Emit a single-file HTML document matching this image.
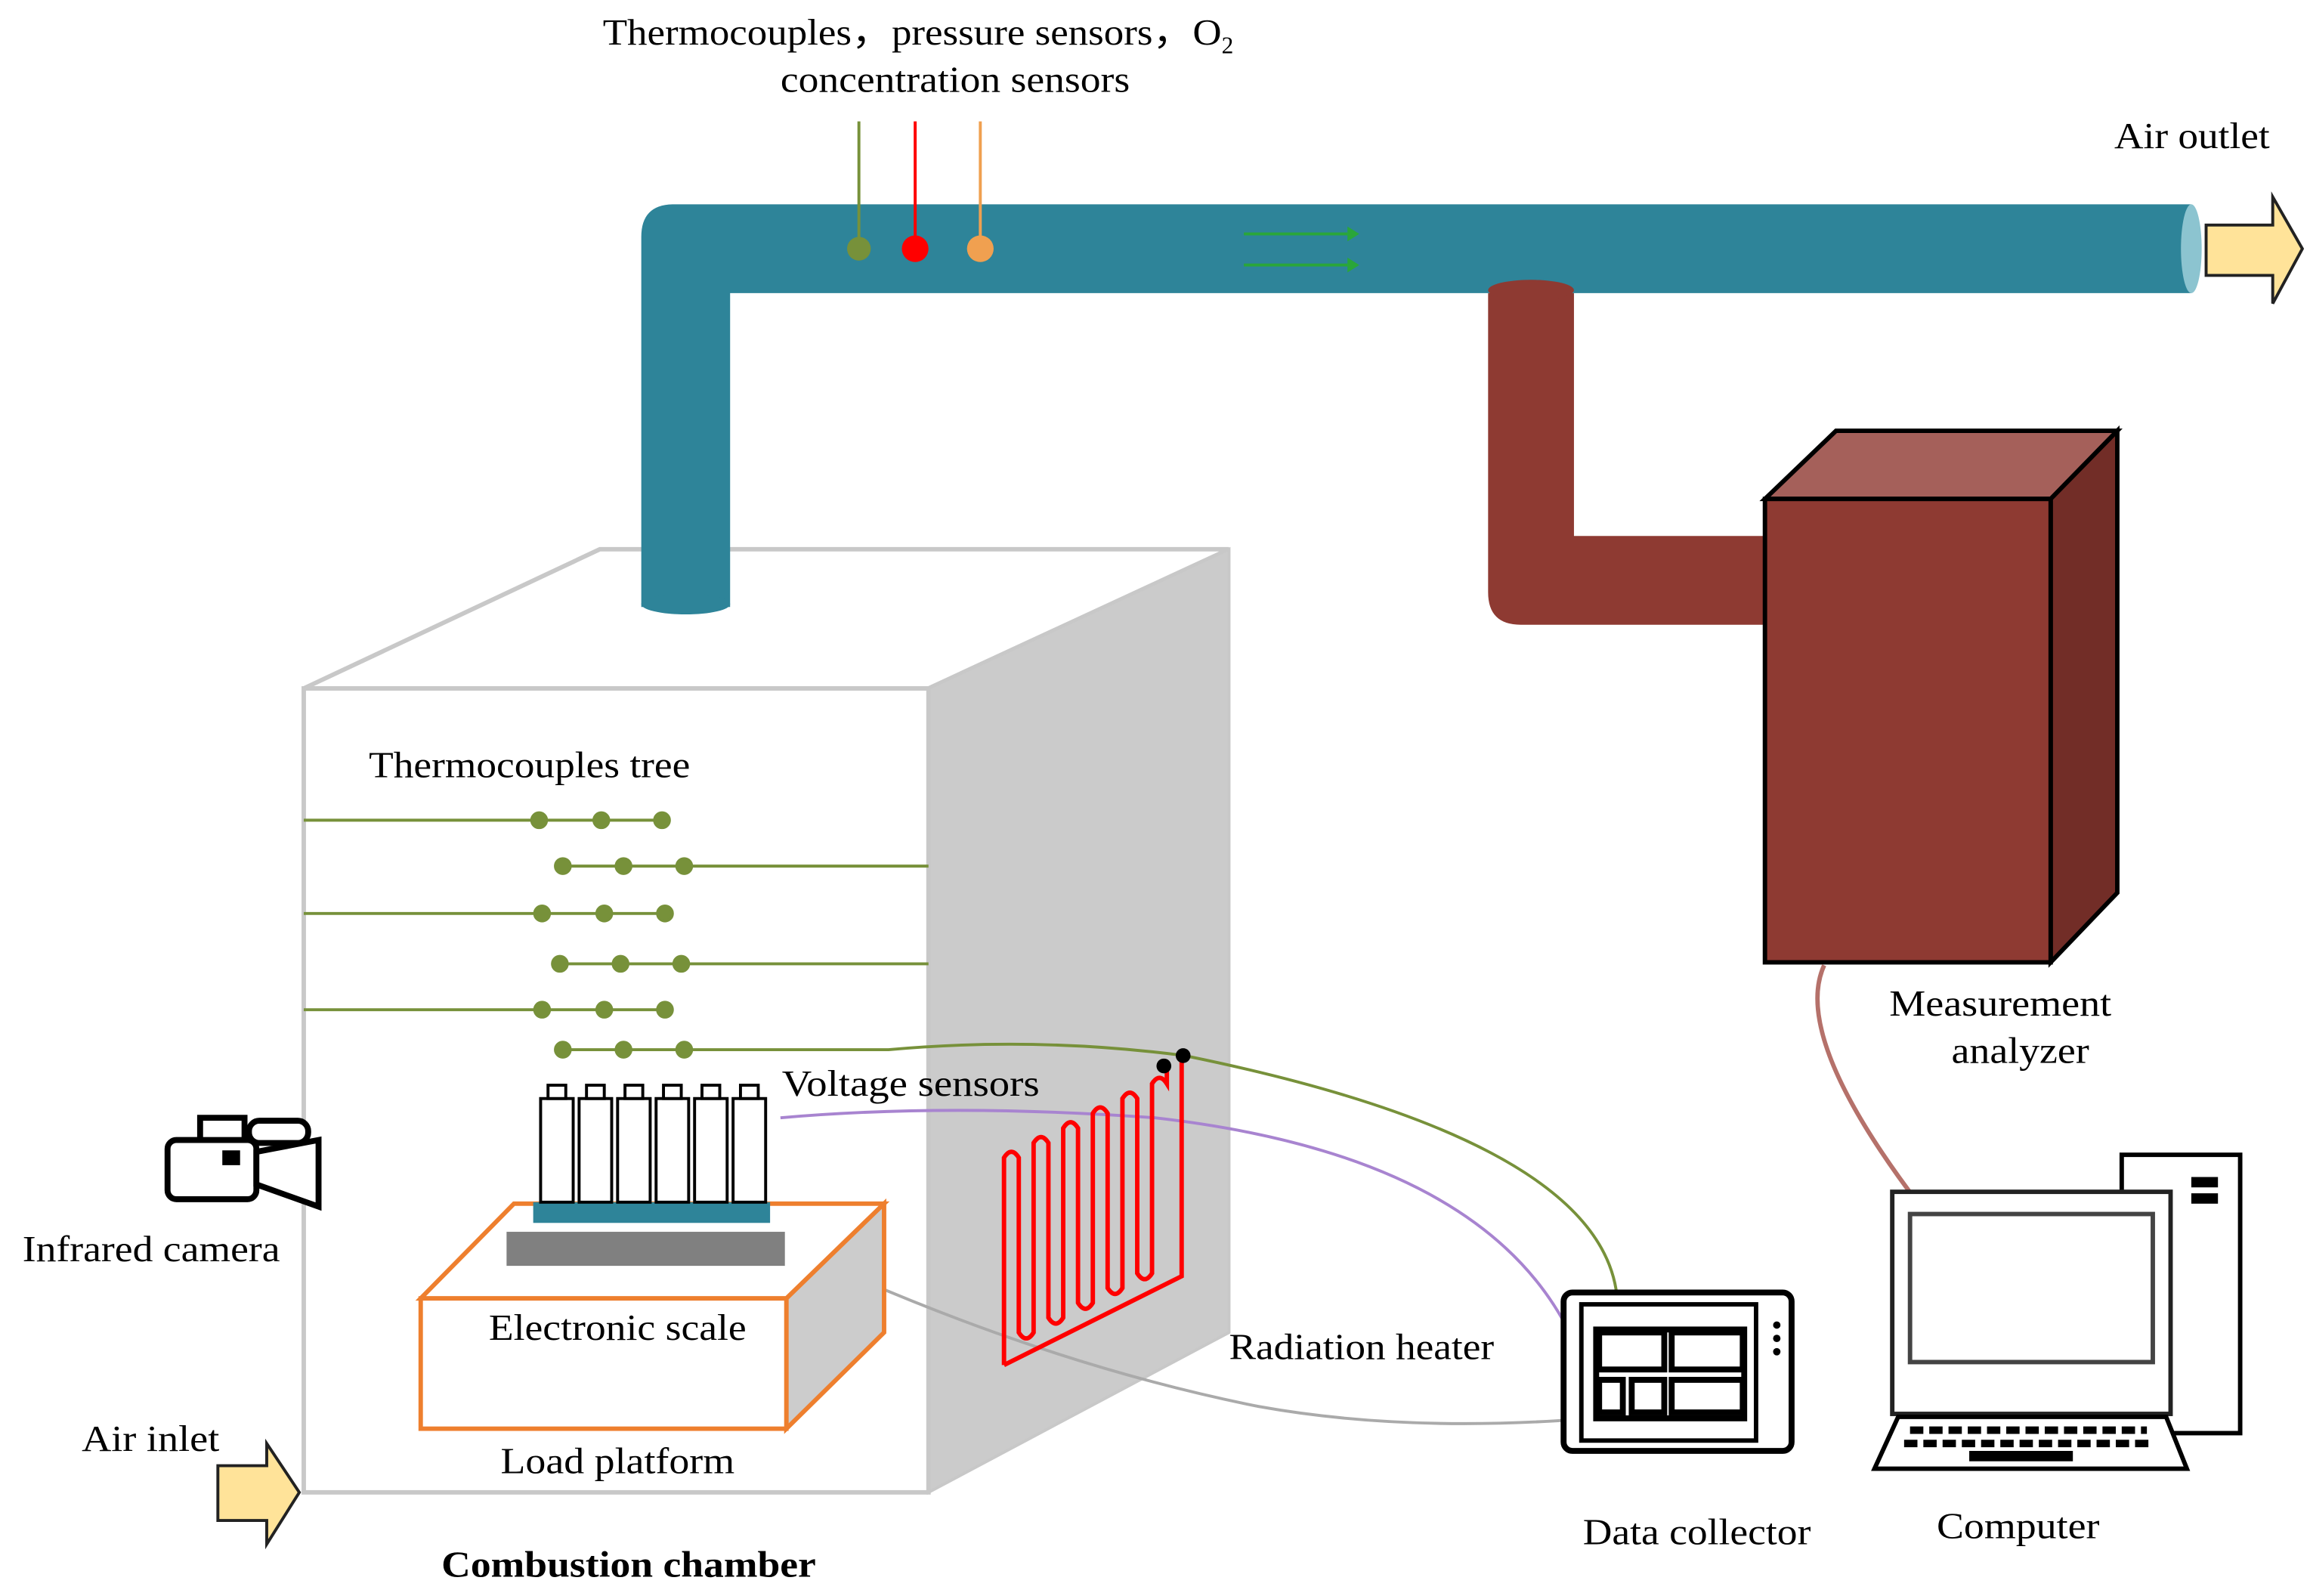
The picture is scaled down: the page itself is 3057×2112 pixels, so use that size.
<!DOCTYPE html>
<html><head><meta charset="utf-8"><style>html,body{margin:0;padding:0;background:#fff}svg{display:block}</style></head><body>
<svg width="3057" height="2112" viewBox="0 0 1560 1078" xmlns="http://www.w3.org/2000/svg" font-family="Liberation Serif, serif" font-size="25">
<rect width="1560" height="1078" fill="#fff"/>
<!-- chamber -->
<polygon points="205,465 405,371 830,371 627,465" fill="#fff" stroke="#c8c8c8" stroke-width="3"/>
<polygon points="627,465 830,371 830,900 627,1008" fill="#cbcbcb" stroke="#c8c8c8" stroke-width="2"/>
<rect x="205" y="465" width="422" height="543" fill="#fff" stroke="#c8c8c8" stroke-width="3"/>
<!-- teal pipe -->
<path d="M433,410 L433,160 Q433,138 455,138 L1480,138 L1480,198 L493,198 L493,410 Z" fill="#2e8499"/>
<ellipse cx="463" cy="408" rx="30" ry="7" fill="#2e8499"/>
<ellipse cx="1480" cy="168" rx="7" ry="30" fill="#8cc4d0"/>
<line x1="840" y1="158" x2="910" y2="158" stroke="#2aa63a" stroke-width="2"/><polygon points="910,153 918,158 910,163" fill="#2aa63a"/>
<line x1="840" y1="179" x2="910" y2="179" stroke="#2aa63a" stroke-width="2"/><polygon points="910,174 918,179 910,184" fill="#2aa63a"/>
<!-- sensors -->
<line x1="580" y1="82" x2="580" y2="168" stroke="#77913a" stroke-width="2"/><circle cx="580" cy="168" r="8" fill="#77913a"/>
<line x1="618" y1="82" x2="618" y2="168" stroke="#f00" stroke-width="2"/><circle cx="618" cy="168" r="9" fill="#f00"/>
<line x1="662" y1="82" x2="662" y2="168" stroke="#f0a050" stroke-width="2"/><circle cx="662" cy="168" r="9" fill="#f0a050"/>
<!-- outlet arrow -->
<polygon points="1490,152 1535,152 1535,133 1555,168 1535,205 1535,186 1490,186" fill="#ffe399" stroke="#222" stroke-width="2"/>
<!-- brown pipe -->
<path d="M1005,198 L1005,400 Q1005,422 1027,422 L1192,422 L1192,362 L1063,362 L1063,198 Z" fill="#8e3a32"/>
<ellipse cx="1034" cy="196" rx="29" ry="7" fill="#8e3a32"/>
<!-- analyzer -->
<polygon points="1192,337 1240,291 1430,291 1385,337" fill="#a5605a" stroke="#000" stroke-width="3"/>
<polygon points="1385,337 1430,291 1430,603 1385,650" fill="#722d27" stroke="#000" stroke-width="3"/>
<rect x="1192" y="337" width="193" height="313" fill="#8e3a32" stroke="#000" stroke-width="3"/>
<path d="M1232,652 Q1210,700 1295,812" stroke="#b5716a" stroke-width="3" fill="none"/>
<!-- thermocouple tree -->
<g stroke="#77913a" stroke-width="2" fill="#77913a">
<line x1="205" y1="554" x2="447" y2="554"/><circle cx="364" cy="554" r="5"/><circle cx="406" cy="554" r="5"/><circle cx="447" cy="554" r="5"/>
<line x1="380" y1="585" x2="627" y2="585"/><circle cx="380" cy="585" r="5"/><circle cx="421" cy="585" r="5"/><circle cx="462" cy="585" r="5"/>
<line x1="205" y1="617" x2="449" y2="617"/><circle cx="366" cy="617" r="5"/><circle cx="408" cy="617" r="5"/><circle cx="449" cy="617" r="5"/>
<line x1="378" y1="651" x2="627" y2="651"/><circle cx="378" cy="651" r="5"/><circle cx="419" cy="651" r="5"/><circle cx="460" cy="651" r="5"/>
<line x1="205" y1="682" x2="449" y2="682"/><circle cx="366" cy="682" r="5"/><circle cx="408" cy="682" r="5"/><circle cx="449" cy="682" r="5"/>
<circle cx="380" cy="709" r="5"/><circle cx="421" cy="709" r="5"/><circle cx="462" cy="709" r="5"/>
<path d="M380,709 L600,709 Q700,700 800,713 Q1080,770 1092,875" fill="none"/>
</g>
<!-- voltage and scale wires -->
<path d="M527,755 Q640,745 780,755 Q1000,780 1060,900" stroke="#a884d0" stroke-width="2" fill="none"/>
<path d="M538,845 Q700,920 850,950 Q950,968 1075,958" stroke="#aaa" stroke-width="2" fill="none"/>
<!-- load platform -->
<polygon points="284,877 347,813 597,813 531,877" fill="#fff" stroke="#ee7f2e" stroke-width="3"/>
<polygon points="531,877 597,813 597,900 531,965" fill="#ccc" stroke="#ee7f2e" stroke-width="3"/>
<rect x="284" y="877" width="247" height="88" fill="#fff" stroke="#ee7f2e" stroke-width="3"/>
<rect x="342" y="832" width="188" height="23" fill="#808080"/>
<rect x="360" y="812" width="160" height="14" fill="#2e8499"/>
<g fill="#fff" stroke="#000" stroke-width="2">
<rect x="365" y="742" width="22" height="70"/><rect x="370" y="733" width="12" height="9"/>
<rect x="391" y="742" width="22" height="70"/><rect x="396" y="733" width="12" height="9"/>
<rect x="417" y="742" width="22" height="70"/><rect x="422" y="733" width="12" height="9"/>
<rect x="443" y="742" width="22" height="70"/><rect x="448" y="733" width="12" height="9"/>
<rect x="469" y="742" width="22" height="70"/><rect x="474" y="733" width="12" height="9"/>
<rect x="495" y="742" width="22" height="70"/><rect x="500" y="733" width="12" height="9"/>
</g>
<!-- heater -->
<path d="M678,922 L798,862 L798,712 M678,922 L678,782 Q683,774 688,782 L688,900 Q693,908 698,900 L698,772 Q703,764 708,772 L708,890 Q713,898 718,890 L718,762 Q723,754 728,762 L728,880 Q733,888 738,880 L738,752 Q743,744 748,752 L748,870 Q753,878 758,870 L758,742 Q763,734 768,742 L768,860 Q773,868 778,860 L778,732 Q783,724 788,732 L788,722" stroke="#f00" stroke-width="3" fill="none"/>
<circle cx="786" cy="720" r="5" fill="#000"/><circle cx="799" cy="713" r="5" fill="#000"/>
<!-- camera -->
<g stroke="#000" stroke-width="4" fill="#fff">
<rect x="113" y="770" width="60" height="40" rx="6"/>
<rect x="135" y="755" width="30" height="15"/>
<rect x="168" y="757" width="40" height="15" rx="7"/>
<polygon points="173,778 215,770 215,815 173,800"/>
</g>
<rect x="150" y="777" width="12" height="10" fill="#000"/>
<!-- air inlet arrow -->
<polygon points="147,990 180,990 180,975 202,1008 180,1043 180,1027 147,1027" fill="#ffe399" stroke="#222" stroke-width="2"/>
<!-- data collector -->
<rect x="1056" y="873" width="154" height="107" rx="6" fill="#fff" stroke="#000" stroke-width="4"/>
<rect x="1068" y="881" width="118" height="92" fill="#fff" stroke="#000" stroke-width="3"/>
<g fill="#fff" stroke="#000" stroke-width="4">
<rect x="1080" y="900" width="44" height="25"/><rect x="1129" y="900" width="48" height="25"/>
<rect x="1080" y="932" width="16" height="22"/><rect x="1102" y="932" width="22" height="22"/><rect x="1129" y="932" width="48" height="22"/>
</g>
<rect x="1078" y="898" width="100" height="60" fill="none" stroke="#000" stroke-width="4"/>
<circle cx="1200" cy="895" r="2.5" fill="#000"/><circle cx="1200" cy="904" r="2.5" fill="#000"/><circle cx="1200" cy="913" r="2.5" fill="#000"/>
<!-- computer -->
<rect x="1433" y="780" width="80" height="188" fill="#fff" stroke="#000" stroke-width="3"/>
<rect x="1480" y="795" width="18" height="7" fill="#000"/><rect x="1480" y="806" width="18" height="7" fill="#000"/>
<rect x="1278" y="805" width="188" height="150" fill="#fff" stroke="#222" stroke-width="3"/>
<rect x="1290" y="820" width="164" height="100" fill="#fff" stroke="#444" stroke-width="3"/>
<rect x="1355" y="955" width="34" height="20" fill="#fff" stroke="#222" stroke-width="2"/>
<polygon points="1266,992 1282,957 1463,957 1477,992" fill="#fff" stroke="#000" stroke-width="3"/>
<g stroke="#000" stroke-width="5" stroke-dasharray="9,4"><line x1="1290" y1="966" x2="1450" y2="966"/><line x1="1286" y1="975" x2="1455" y2="975"/></g>
<rect x="1330" y="980" width="70" height="7" fill="#000"/>
<!-- labels -->
<g fill="#000" lengthAdjust="spacingAndGlyphs">
<text x="407" y="30" textLength="418" lengthAdjust="spacingAndGlyphs">Thermocouples，pressure sensors，O</text><text x="825" y="36" font-size="16">2</text>
<text x="527" y="62" textLength="236" lengthAdjust="spacingAndGlyphs">concentration sensors</text>
<text x="1428" y="100" textLength="105" lengthAdjust="spacingAndGlyphs">Air outlet</text>
<text x="249" y="525" textLength="217" lengthAdjust="spacingAndGlyphs">Thermocouples tree</text>
<text x="528" y="740" textLength="174" lengthAdjust="spacingAndGlyphs">Voltage sensors</text>
<text x="15" y="852" textLength="174" lengthAdjust="spacingAndGlyphs">Infrared camera</text>
<text x="330" y="905" textLength="174" lengthAdjust="spacingAndGlyphs">Electronic scale</text>
<text x="830" y="918" textLength="179" lengthAdjust="spacingAndGlyphs">Radiation heater</text>
<text x="55" y="980" textLength="93" lengthAdjust="spacingAndGlyphs">Air inlet</text>
<text x="338" y="995" textLength="158" lengthAdjust="spacingAndGlyphs">Load platform</text>
<text x="298" y="1065" font-weight="bold" textLength="253" lengthAdjust="spacingAndGlyphs">Combustion chamber</text>
<text x="1276" y="686" textLength="150" lengthAdjust="spacingAndGlyphs">Measurement</text>
<text x="1318" y="718" textLength="93" lengthAdjust="spacingAndGlyphs">analyzer</text>
<text x="1069" y="1043" textLength="154" lengthAdjust="spacingAndGlyphs">Data collector</text>
<text x="1308" y="1039" textLength="110" lengthAdjust="spacingAndGlyphs">Computer</text>
</g>
</svg>
</body></html>
